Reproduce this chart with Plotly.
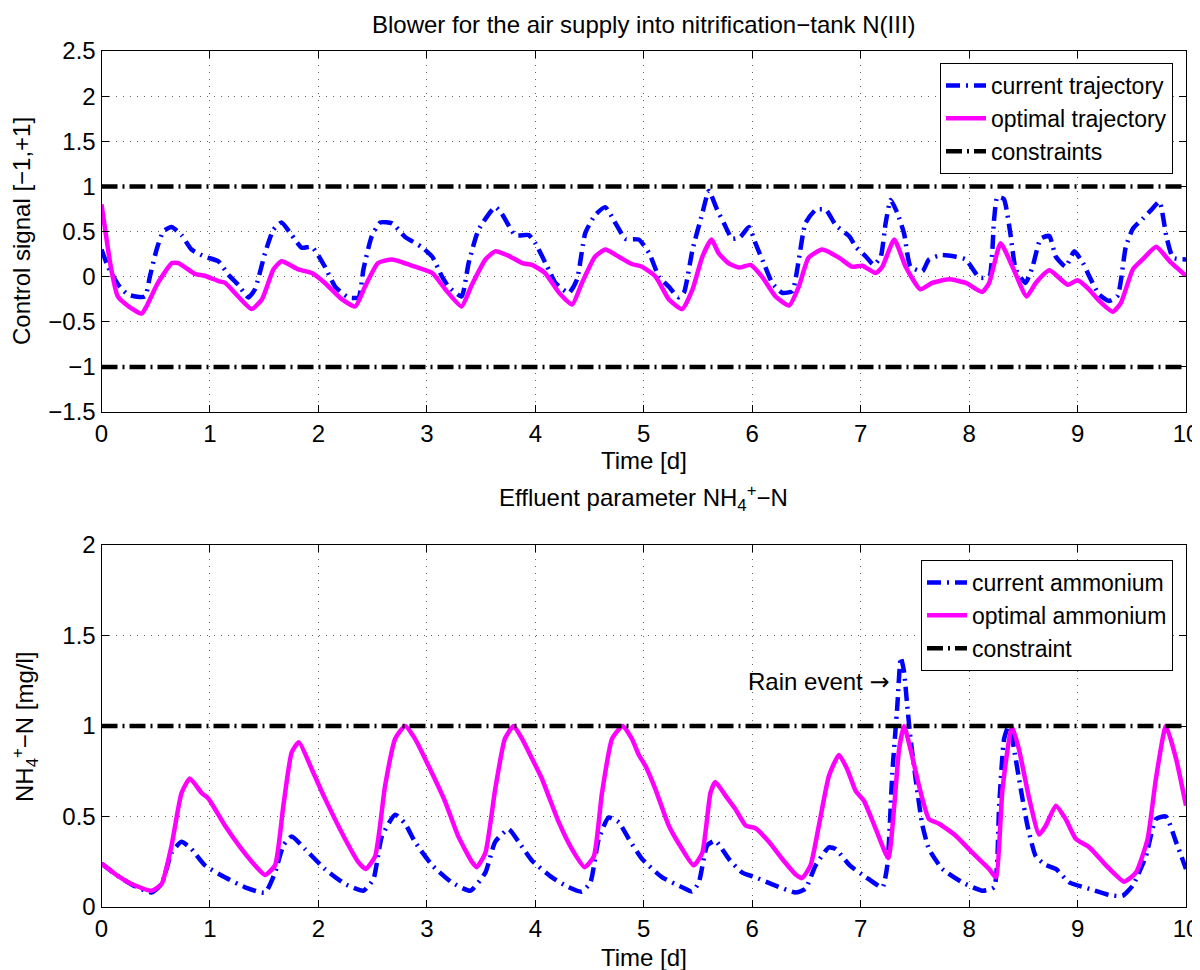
import plotly.graph_objects as go

# ---------------- data ----------------
# Top: control signal
t_opt_top = [0.0, 0.09, 0.15, 0.25, 0.37, 0.415, 0.52, 0.65, 0.71, 0.86, 0.95, 1.08, 1.14, 1.26, 1.385, 1.48,
             1.585, 1.66, 1.815, 1.94, 2.06, 2.215, 2.34, 2.43, 2.55, 2.68, 2.89, 3.05, 3.17, 3.32, 3.415,
             3.54, 3.63, 3.755, 3.88, 3.97, 4.09, 4.22, 4.34, 4.43, 4.55, 4.645, 4.77, 4.89, 4.985, 5.11,
             5.23, 5.355, 5.45, 5.54, 5.625, 5.69, 5.78, 5.88, 5.985, 6.09, 6.215, 6.34, 6.43, 6.52, 6.645,
             6.8, 6.92, 7.015, 7.14, 7.2, 7.31, 7.415, 7.55, 7.66, 7.815, 7.97, 8.12, 8.185, 8.29, 8.4,
             8.53, 8.615, 8.74, 8.91, 9.0, 9.105, 9.2, 9.325, 9.4, 9.51, 9.6, 9.725, 9.85, 10.0]
v_opt_top = [0.80, 0.08, -0.22, -0.33, -0.41, -0.33, -0.07, 0.15, 0.15, 0.03, 0.01, -0.05, -0.07, -0.22, -0.36, -0.25,
             0.08, 0.17, 0.08, 0.04, -0.07, -0.25, -0.33, -0.11, 0.15, 0.19, 0.11, 0.04, -0.14, -0.33, -0.09,
             0.19, 0.28, 0.23, 0.15, 0.13, 0.04, -0.18, -0.31, -0.07, 0.22, 0.30, 0.22, 0.14, 0.11, 0.00,
             -0.25, -0.36, -0.14, 0.22, 0.41, 0.26, 0.15, 0.10, 0.13, 0.00, -0.22, -0.32, -0.11, 0.21, 0.30,
             0.21, 0.11, 0.12, 0.04, 0.11, 0.41, 0.11, -0.14, -0.07, -0.03, -0.07, -0.17, -0.07, 0.37, 0.11,
             -0.22, -0.07, 0.07, -0.09, -0.04, -0.14, -0.27, -0.39, -0.29, 0.08, 0.19, 0.33, 0.17, 0.01]

t_cur_top = [0.0, 0.06, 0.154, 0.246, 0.40, 0.446, 0.508, 0.57, 0.646, 0.738, 0.83, 0.954, 1.077, 1.17, 1.26,
             1.354, 1.415, 1.508, 1.585, 1.66, 1.754, 1.846, 1.94, 2.06, 2.154, 2.277, 2.37, 2.415, 2.49, 2.57,
             2.68, 2.8, 2.95, 3.05, 3.14, 3.2, 3.32, 3.385, 3.477, 3.63, 3.69, 3.815, 3.94, 4.0, 4.123, 4.185,
             4.31, 4.385, 4.46, 4.55, 4.645, 4.74, 4.83, 4.955, 5.05, 5.14, 5.23, 5.32, 5.37, 5.45, 5.54, 5.6,
             5.677, 5.74, 5.815, 5.89, 5.97, 6.03, 6.12, 6.185, 6.277, 6.37, 6.43, 6.49, 6.585, 6.68, 6.77,
             6.9, 6.955, 7.05, 7.12, 7.185, 7.23, 7.277, 7.34, 7.4, 7.46, 7.57, 7.63, 7.75, 7.88, 7.97, 8.095,
             8.185, 8.23, 8.26, 8.32, 8.385, 8.43, 8.52, 8.585, 8.66, 8.74, 8.8, 8.89, 8.97, 9.05, 9.11, 9.2,
             9.29, 9.37, 9.445, 9.51, 9.6, 9.68, 9.755, 9.82, 9.88, 10.0]
v_cur_top = [0.30, 0.11, -0.09, -0.20, -0.22, 0.0, 0.30, 0.50, 0.55, 0.46, 0.30, 0.22, 0.17, 0.02, -0.09,
             -0.23, -0.14, 0.26, 0.52, 0.60, 0.46, 0.32, 0.33, 0.11, -0.11, -0.23, -0.23, 0.08, 0.44, 0.60,
             0.59, 0.44, 0.33, 0.22, 0.0, -0.11, -0.22, 0.15, 0.52, 0.77, 0.70, 0.46, 0.46, 0.37, 0.08, -0.07,
             -0.18, -0.03, 0.48, 0.68, 0.77, 0.59, 0.42, 0.41, 0.26, 0.0, -0.11, -0.23, -0.18, 0.30, 0.70, 0.95,
             0.74, 0.59, 0.42, 0.44, 0.55, 0.37, 0.11, -0.07, -0.18, -0.16, 0.19, 0.59, 0.74, 0.74, 0.57,
             0.44, 0.33, 0.22, 0.13, 0.22, 0.59, 0.85, 0.70, 0.48, 0.11, 0.06, 0.19, 0.24, 0.22, 0.19, -0.01,
             0.0, 0.63, 0.88, 0.86, 0.44, 0.08, -0.07, 0.11, 0.42, 0.45, 0.22, 0.11, 0.28, 0.15, 0.0, -0.20,
             -0.27, -0.21, 0.33, 0.53, 0.64, 0.74, 0.83, 0.44, 0.21, 0.19]

# Bottom: ammonium
t_opt_bot = [0.0, 0.154, 0.277, 0.46, 0.554, 0.646, 0.738, 0.815, 0.923, 0.985, 1.138, 1.292, 1.446, 1.508, 1.6,
             1.677, 1.754, 1.82, 1.94, 2.06, 2.246, 2.37, 2.437, 2.523, 2.615, 2.708, 2.8, 2.89, 3.015, 3.17,
             3.29, 3.415, 3.46, 3.54, 3.63, 3.72, 3.8, 3.877, 3.97, 4.06, 4.215, 4.338, 4.455, 4.54, 4.615,
             4.708, 4.806, 4.89, 4.955, 5.015, 5.108, 5.23, 5.354, 5.46, 5.54, 5.615, 5.66, 5.754, 5.846,
             5.94, 6.03, 6.154, 6.277, 6.4, 6.46, 6.538, 6.615, 6.708, 6.8, 6.877, 6.955, 7.03, 7.14, 7.255,
             7.31, 7.354, 7.4, 7.46, 7.538, 7.63, 7.723, 7.877, 8.03, 8.185, 8.246, 8.308, 8.394, 8.46, 8.554,
             8.646, 8.708, 8.8, 8.89, 8.985, 9.108, 9.262, 9.43, 9.538, 9.646, 9.723, 9.815, 9.908, 10.0]
v_opt_bot = [0.24, 0.17, 0.127, 0.09, 0.127, 0.34, 0.63, 0.71, 0.63, 0.60, 0.45, 0.32, 0.21, 0.177, 0.23,
             0.56, 0.855, 0.91, 0.76, 0.60, 0.376, 0.247, 0.21, 0.28, 0.67, 0.93, 1.0, 0.93, 0.78, 0.58,
             0.39, 0.25, 0.22, 0.30, 0.65, 0.93, 1.0, 0.93, 0.82, 0.71, 0.47, 0.32, 0.22, 0.28, 0.63,
             0.93, 1.0, 0.93, 0.84, 0.78, 0.65, 0.45, 0.32, 0.23, 0.30, 0.63, 0.69, 0.615, 0.54,
             0.45, 0.435, 0.36, 0.265, 0.18, 0.16, 0.23, 0.45, 0.725, 0.84, 0.76, 0.64, 0.587, 0.43, 0.27,
             0.56, 0.87, 1.0, 0.87, 0.67, 0.486, 0.46, 0.394, 0.30, 0.21, 0.164, 0.65, 1.0, 0.87, 0.60,
             0.40, 0.45, 0.56, 0.486, 0.376, 0.33, 0.23, 0.14, 0.19, 0.376, 0.71, 1.0, 0.82, 0.56]

t_cur_bot = [0.0, 0.154, 0.277, 0.46, 0.554, 0.646, 0.738, 0.83, 0.954, 1.138, 1.323, 1.508, 1.6, 1.677, 1.754,
             1.877, 2.06, 2.246, 2.415, 2.508, 2.585, 2.708, 2.8, 2.89, 3.05, 3.23, 3.40, 3.54, 3.63, 3.754,
             3.846, 3.97, 4.154, 4.308, 4.43, 4.508, 4.585, 4.677, 4.77, 4.862, 4.985, 5.17, 5.354, 5.446,
             5.508, 5.585, 5.66, 5.785, 5.908, 6.03, 6.215, 6.4, 6.49, 6.585, 6.708, 6.77, 6.9, 7.05, 7.2,
             7.246, 7.292, 7.338, 7.37, 7.4, 7.43, 7.46, 7.52, 7.57, 7.63, 7.754, 7.938, 8.123, 8.23, 8.277,
             8.323, 8.37, 8.415, 8.477, 8.538, 8.615, 8.708, 8.8, 8.923, 9.108, 9.292, 9.415, 9.508, 9.63,
             9.723, 9.815, 9.908, 10.0]
v_cur_bot = [0.24, 0.17, 0.125, 0.08, 0.127, 0.30, 0.36, 0.32, 0.23, 0.164, 0.109, 0.08, 0.19, 0.34, 0.39,
             0.32, 0.21, 0.127, 0.09, 0.155, 0.39, 0.51, 0.46, 0.36, 0.23, 0.136, 0.09, 0.19, 0.36, 0.43,
             0.36, 0.256, 0.164, 0.109, 0.085, 0.136, 0.376, 0.495, 0.468, 0.376, 0.265, 0.164, 0.109, 0.085,
             0.136, 0.34, 0.366, 0.265, 0.19, 0.164, 0.118, 0.08, 0.10, 0.23, 0.33, 0.32, 0.23, 0.164, 0.109,
             0.23, 0.74, 1.11, 1.38, 1.30, 1.11, 0.93, 0.65, 0.45, 0.32, 0.21, 0.136, 0.09, 0.109, 0.56,
             0.93, 1.01, 0.87, 0.65, 0.45, 0.28, 0.232, 0.21, 0.136, 0.10, 0.066, 0.062, 0.118, 0.28,
             0.486, 0.50, 0.36, 0.21]

constraint_top = [1.0, -1.0]
constraint_bot = [1.0]
time_span = [0, 10]

x_ticks = list(range(0, 11))
y_ticks_top = [-1.5, -1, -0.5, 0, 0.5, 1, 1.5, 2, 2.5]
y_ticks_bot = [0, 0.5, 1, 1.5, 2]

# ---------------- figure ----------------
FONT = "Liberation Sans, Arial, Helvetica, sans-serif"
FS = 24
LFS = 23
LW = 4.5
BLUE = "#0000FF"
MAG = "#FF00FF"
CUR_DASH = "14px,6px,2px,6px"
CON_DASH = "16px,5px,2px,5px"

fig = go.Figure()

# top
fig.add_trace(go.Scatter(x=t_cur_top, y=v_cur_top, mode="lines", name="current trajectory",
                         line=dict(color=BLUE, width=LW, dash=CUR_DASH, shape="spline", smoothing=0.5),
                         xaxis="x", yaxis="y", legend="legend"))
fig.add_trace(go.Scatter(x=t_opt_top, y=v_opt_top, mode="lines", name="optimal trajectory",
                         line=dict(color=MAG, width=LW, shape="spline", smoothing=0.5),
                         xaxis="x", yaxis="y", legend="legend"))
for i, c in enumerate(constraint_top):
    fig.add_trace(go.Scatter(x=time_span, y=[c, c], mode="lines", name="constraints",
                             showlegend=(i == 0),
                             line=dict(color="black", width=LW, dash=CON_DASH),
                             xaxis="x", yaxis="y", legend="legend"))

# bottom
fig.add_trace(go.Scatter(x=t_cur_bot, y=v_cur_bot, mode="lines", name="current ammonium",
                         line=dict(color=BLUE, width=LW, dash=CUR_DASH, shape="spline", smoothing=0.5),
                         xaxis="x2", yaxis="y2", legend="legend2"))
fig.add_trace(go.Scatter(x=t_opt_bot, y=v_opt_bot, mode="lines", name="optimal ammonium",
                         line=dict(color=MAG, width=LW, shape="spline", smoothing=0.5),
                         xaxis="x2", yaxis="y2", legend="legend2"))
for c in constraint_bot:
    fig.add_trace(go.Scatter(x=time_span, y=[c, c], mode="lines", name="constraint",
                             line=dict(color="black", width=LW, dash=CON_DASH),
                             xaxis="x2", yaxis="y2", legend="legend2"))

W, H = 1200, 970
OFF = 8  # page body margin


def px(p):
    return (p - OFF) / W


def py(p):
    return (H - (p - OFF)) / H


x0, x1 = px(101.5), px(1186)
top_dom = [py(412), py(51)]
bot_dom = [py(907), py(545)]

axis_common = dict(showline=True, linecolor="black", linewidth=1, mirror="ticks",
                   ticks="inside", ticklen=7, tickcolor="black", tickwidth=1,
                   showgrid=True, gridcolor="#666666", gridwidth=1, griddash="1px,6px",
                   zeroline=False, automargin=False,
                   tickfont=dict(family=FONT, size=FS, color="black"))

fig.update_layout(
    width=W, height=H,
    margin=dict(l=0, r=0, t=0, b=0, autoexpand=False),
    paper_bgcolor="white", plot_bgcolor="white",
    font=dict(family=FONT, size=FS, color="black"),
    xaxis=dict(domain=[x0, x1], range=[0, 10], tickvals=x_ticks, anchor="y", **axis_common),
    yaxis=dict(domain=top_dom, range=[-1.5, 2.5], tickvals=y_ticks_top, anchor="x", **axis_common),
    xaxis2=dict(domain=[x0, x1], range=[0, 10], tickvals=x_ticks, anchor="y2", **axis_common),
    yaxis2=dict(domain=bot_dom, range=[0, 2], tickvals=y_ticks_bot, anchor="x2", **axis_common),
    legend=dict(x=px(1173), y=py(63), xanchor="right", yanchor="top",
                bgcolor="white", bordercolor="black", borderwidth=1,
                font=dict(family=FONT, size=LFS), tracegroupgap=0, itemwidth=40),
    legend2=dict(x=px(1173), y=py(560), xanchor="right", yanchor="top",
                 bgcolor="white", bordercolor="black", borderwidth=1,
                 font=dict(family=FONT, size=LFS), tracegroupgap=0, itemwidth=40),
    showlegend=True,
)

xc = (x0 + x1) / 2
ann = [
    dict(text="Blower for the air supply into nitrification\u2212tank N(III)", x=xc,
         y=py(24), xanchor="center", yanchor="middle"),
    dict(text="Effluent parameter NH<sub>4</sub><sup>+</sup>\u2212N", x=xc,
         y=py(498), xanchor="center", yanchor="middle"),
    dict(text="Time [d]", x=xc, y=py(460), xanchor="center", yanchor="middle"),
    dict(text="Time [d]", x=xc, y=py(957), xanchor="center", yanchor="middle"),
    dict(text="Control signal [\u22121,+1]", x=px(22), y=py(231), xanchor="center",
         yanchor="middle", textangle=-90),
    dict(text="NH<sub>4</sub><sup>+</sup>\u2212N [mg/l]", x=px(25), y=py(727), xanchor="center",
         yanchor="middle", textangle=-90),
]
for a in ann:
    fig.add_annotation(xref="paper", yref="paper", showarrow=False,
                       font=dict(family=FONT, size=FS, color="black"), **a)

fig.add_annotation(xref="x2", yref="y2", x=7.29, y=1.243,
                   text="Rain event <span style=\"font-family:DejaVu Sans\">\u2192</span>",
                   showarrow=False, xanchor="right", yanchor="middle",
                   font=dict(family=FONT, size=FS, color="black"))

fig.write_html("out.html")
